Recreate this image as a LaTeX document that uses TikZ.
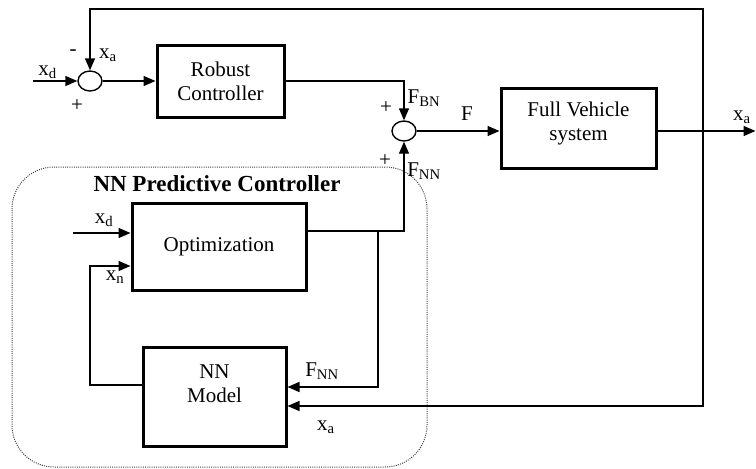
\documentclass[tikz,border=0pt]{standalone}
\usepackage{fontspec}
\setmainfont{Liberation Serif}
\usetikzlibrary{arrows.meta,shapes.geometric}
\begin{document}
\begin{tikzpicture}[x=1pt,y=-1pt,
  font=\fontsize{21}{24}\selectfont,
  blk/.style={draw, line width=3pt, rectangle, align=center, inner sep=0pt},
  sumj/.style={draw, ellipse, line width=1.4pt, minimum width=24pt, minimum height=20pt, inner sep=0pt},
  conn/.style={line width=1.4pt},
  arr/.style={conn, -{Triangle[length=12pt,width=10pt]}},
  lbl/.style={inner sep=0pt, align=center},
  frame/.style={draw=black!75, line width=1pt, dash pattern=on 1pt off 1.2pt, rounded corners=42pt}]
\useasboundingbox (0,0) rectangle (756,469);
% dotted frame
\node[frame, minimum width=415pt, minimum height=300pt] (nnpc) at (219.5,317) {};
\node[lbl, font=\fontsize{23}{26}\selectfont\bfseries] (ttl) at (217,184) {NN Predictive Controller};
% blocks
\node[sumj] (s1) at (90,81) {};
\node[blk, minimum width=127pt, minimum height=72pt] (rc) at (220.5,81) {Robust\\Controller};
\node[sumj] (s2) at (404,131) {};
\node[blk, minimum width=155pt, minimum height=80pt] (fv) at (578.5,128) {};
\node[lbl] (fvt) at (578.5,123) {Full Vehicle\\system};
\node[blk, minimum width=174pt, minimum height=87pt] (op) at (219,246.5) {Optimization};
\node[blk, minimum width=143pt, minimum height=99pt] (nm) at (214.5,396.5) {};
\node[lbl] (nmt) at (214.5,384) {NN\\Model};
% coordinates
\coordinate (xdin) at (33,81);
\coordinate (tap) at (703,131);
\coordinate (tl) at (90,9);
\coordinate (outp) at (755.5,131);
\coordinate (br) at (378,231);
\coordinate (xd2) at (73,233);
\coordinate (xnc) at (90,385);
% connectors
\draw[arr] (xdin) -- (s1.west);
\draw[arr] (s1.east) -- (rc.west);
\draw[arr] (rc.east) -| (s2.north);
\draw[arr] (s2.east) -- (s2.east -| fv.west);
\draw[arr] ([yshift=-3pt]fv.east) -- (outp);
\draw[arr] (tap) |- (tl) -- (s1.north);
\draw[arr] (tap) |- ([yshift=-9.5pt]nm.east);
\draw[arr] ([yshift=15.5pt]op.east) -| (s2.south);
\draw[arr] (br) |- ([yshift=9.5pt]nm.east);
\draw[arr] (xd2) -- (xd2 -| op.west);
\draw[arr] ([yshift=11.5pt]nm.west) -- (xnc) |- ([yshift=-19.5pt]op.west);
% labels
\node[lbl] (lxd) at (47.5,72) {x\textsubscript{d}};
\node[lbl] (lm) at (73,53) {-};
\node[lbl] (lxa) at (108,55) {x\textsubscript{a}};
\node[lbl] (lp1) at (77,106) {+};
\node[lbl] (lfbn) at (424,98) {F\textsubscript{BN}};
\node[lbl] (lp2) at (386,108) {+};
\node[lbl] (lp3) at (385,161) {+};
\node[lbl] (lfnn) at (424,171) {F\textsubscript{NN}};
\node[lbl] (lf) at (467,114) {F};
\node[lbl] (lxa2) at (742,117) {x\textsubscript{a}};
\node[lbl] (lxd2) at (104,220) {x\textsubscript{d}};
\node[lbl] (lxn) at (115,277) {x\textsubscript{n}};
\node[lbl] (lfnn2) at (322,371) {F\textsubscript{NN}};
\node[lbl] (lxa3) at (326,427) {x\textsubscript{a}};
\end{tikzpicture}
\end{document}
